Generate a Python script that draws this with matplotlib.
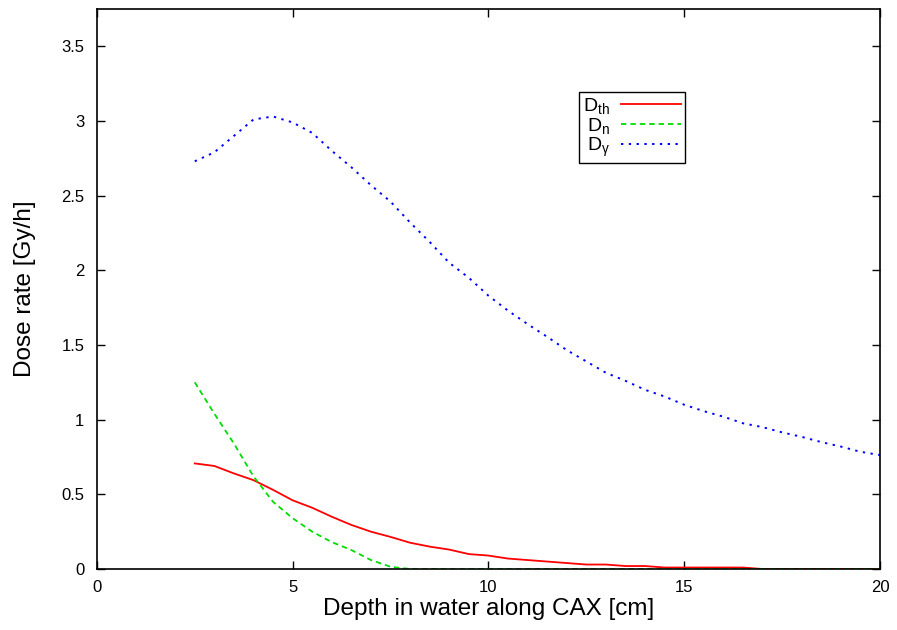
import matplotlib
matplotlib.use('Agg')
import matplotlib.pyplot as plt
import numpy as np

# Depth in water along CAX [cm]
depth = [2.5, 3.0, 3.5, 4.0, 4.5, 5.0, 5.5, 6.0, 6.5, 7.0, 7.5, 8.0, 8.5, 9.0, 9.5,
         10.0, 10.5, 11.0, 11.5, 12.0, 12.5, 13.0, 13.5, 14.0, 14.5, 15.0, 15.5,
         16.0, 16.5, 17.0, 17.5, 18.0, 18.5, 19.0, 19.5, 20.0]

# Thermal neutron dose rate [Gy/h]
d_th = [0.707, 0.69, 0.64, 0.595, 0.53, 0.46, 0.41, 0.35, 0.295, 0.25, 0.215, 0.176,
        0.15, 0.13, 0.10, 0.09, 0.07, 0.06, 0.05, 0.04, 0.03, 0.03, 0.02, 0.02,
        0.01, 0.01, 0.01, 0.01, 0.01, 0.0, 0.0, 0.0, 0.0, 0.0, 0.0, 0.0]

# Fast neutron dose rate [Gy/h]
d_n = [1.25, 1.04, 0.84, 0.62, 0.45, 0.34, 0.25, 0.18, 0.127, 0.06, 0.015, 0.0,
       0.0, 0.0, 0.0, 0.0, 0.0, 0.0, 0.0, 0.0, 0.0, 0.0, 0.0, 0.0, 0.0, 0.0, 0.0,
       0.0, 0.0, 0.0, 0.0, 0.0, 0.0, 0.0, 0.0, 0.0]

# Gamma dose rate [Gy/h]
d_gamma = [2.73, 2.79, 2.90, 3.01, 3.03, 2.99, 2.92, 2.80, 2.69, 2.57, 2.46, 2.32,
           2.19, 2.05, 1.95, 1.83, 1.73, 1.64, 1.555, 1.466, 1.39, 1.314, 1.26,
           1.20, 1.155, 1.10, 1.057, 1.02, 0.976, 0.95, 0.915, 0.885, 0.85, 0.82,
           0.785, 0.763]

plt.rcParams['font.family'] = ['Liberation Sans', 'DejaVu Sans']
plt.rcParams['mathtext.fontset'] = 'custom'
plt.rcParams['mathtext.rm'] = 'Liberation Sans'
plt.rcParams['mathtext.it'] = 'Liberation Sans'

fig = plt.figure(figsize=(8.97, 6.30), dpi=100)
ax = fig.add_axes([0.108, 0.0968, 0.873, 0.889])

ax.plot(depth, d_th, color='#ff0000', lw=1.3, label=r'D$_{\mathrm{th}}$')
ax.plot(depth, d_n, color='#00dd00', lw=1.3, dashes=(3, 2.2), label=r'D$_{\mathrm{n}}$')
ax.plot(depth, d_gamma, color='#0000ff', lw=1.4, dashes=(1.2, 2.8), label=r'D$_\gamma$')

ax.set_xlim(0, 20)
ax.set_ylim(0, 3.75)
ax.set_xticks(np.arange(0, 21, 5))
ax.set_yticks(np.arange(0, 3.6, 0.5))
ax.set_yticklabels(['0', '0.5', '1', '1.5', '2', '2.5', '3', '3.5'])
ax.tick_params(direction='in', length=6, width=1, top=True, right=True, labelsize=12)
ax.tick_params(axis='y', pad=9)
ax.tick_params(axis='x', pad=8)
for s in ax.spines.values():
    s.set_linewidth(1.2)

ax.set_xlabel('Depth in water along CAX [cm]', fontsize=17.5, labelpad=2)
ax.set_ylabel('Dose rate [Gy/h]', fontsize=17.5, labelpad=18)

# gnuplot style key: label first, then the line sample
leg = ax.legend(loc='upper right', bbox_to_anchor=(0.751, 0.852), borderaxespad=0,
                markerfirst=False, fontsize=14, fancybox=False, framealpha=1,
                edgecolor='black', handlelength=3.1, borderpad=0.2, labelspacing=0.0,
                handletextpad=0.55)
leg.get_frame().set_linewidth(1.0)
for t in leg.get_texts():
    t.set_ha('right')

fig.savefig('out.png', dpi=100)
